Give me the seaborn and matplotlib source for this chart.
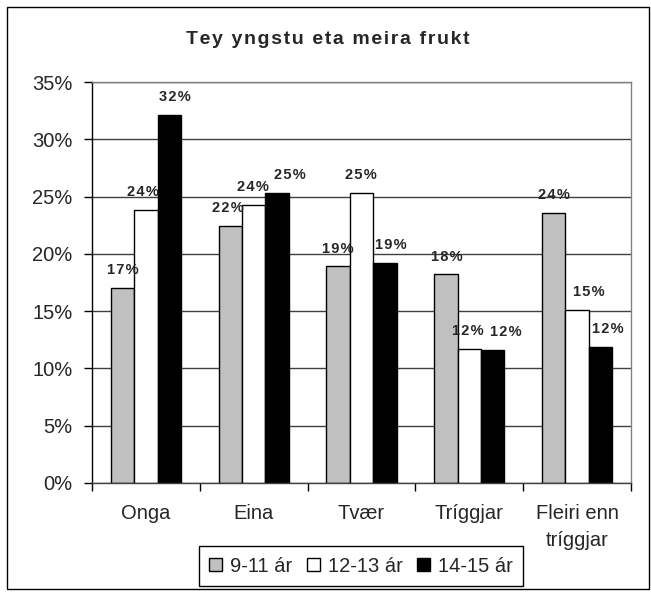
import pandas as pd
import matplotlib
matplotlib.use("Agg")
import matplotlib.pyplot as plt
import seaborn as sns
from matplotlib.patches import Patch, Rectangle
from matplotlib.ticker import FuncFormatter, FixedLocator

# Data (percent)
categories = ["Onga", "Eina", "Tvær", "Tríggjar", "Fleiri enn\ntríggjar"]
age_groups = ["9-11 ár", "12-13 ár", "14-15 ár"]
vals_9_11 = [17.0, 22.4, 18.9, 18.2, 23.6]
vals_12_13 = [23.8, 24.3, 25.3, 11.7, 15.1]
vals_14_15 = [32.1, 25.3, 19.2, 11.6, 11.9]
bar_colors = ["#C0C0C0", "#FFFFFF", "#000000"]
yticks = [0, 5, 10, 15, 20, 25, 30, 35]
title = "Tey yngstu eta meira frukt"

# sideways nudge of the value labels (pixels), like Excel placed them
nudge_9_11 = [0, -2, 0, 1, 0]
nudge_12_13 = [-3, -1, -1, -1, 12]
nudge_14_15 = [6, 13, 6, 13, 7]

# long format for seaborn
rows = []
for grp, vals in zip(age_groups, [vals_9_11, vals_12_13, vals_14_15]):
    for cat, v in zip(categories, vals):
        rows.append({"bolkur": cat, "aldur": grp, "virdi": v})
df = pd.DataFrame(rows)

sns.set_style("white")
plt.rcParams["font.family"] = ["Liberation Sans", "DejaVu Sans"]


def spaced(s, sep):
    # Excel draws these texts with extra letter spacing
    return sep.join(s)


W, H = 651, 592
fig = plt.figure(figsize=(W / 100, H / 100), dpi=100)
ax = fig.add_axes([92 / W, (H - 483) / H, (631 - 92) / W, (483 - 82) / H])

sns.barplot(data=df, x="bolkur", y="virdi", hue="aldur",
            order=categories, hue_order=age_groups, palette=bar_colors,
            width=0.65, gap=0, edgecolor="black", linewidth=1,
            saturation=1, legend=False, ax=ax)

# data labels
all_vals = [vals_9_11, vals_12_13, vals_14_15]
all_nudge = [nudge_9_11, nudge_12_13, nudge_14_15]
for cont, vals, nudges in zip(ax.containers, all_vals, all_nudge):
    for bar, v, dx in zip(cont, vals, nudges):
        x = bar.get_x() + bar.get_width() / 2
        ax.annotate(spaced(f"{round(v)}%", "\u200a"), (x, bar.get_height()),
                    xytext=(dx * 0.72, 10), textcoords="offset points",
                    ha="center", va="baseline", fontsize=10.5, fontweight="bold")

ax.set_xlim(-0.5, len(categories) - 0.5)
ax.set_ylim(0, 35)
ax.set_yticks(yticks)
ax.yaxis.set_major_formatter(FuncFormatter(lambda v, p: f"{v:.0f}%"))
ax.set_xlabel("")
ax.set_ylabel("")

ax.set_axisbelow(True)
ax.yaxis.grid(True, color="#404040", linewidth=1)

# category ticks between the groups
ax.xaxis.set_minor_locator(FixedLocator([i - 0.5 for i in range(len(categories) + 1)]))
ax.tick_params(axis="x", which="major", length=0, pad=15, labelsize=14.5)
ax.tick_params(axis="x", which="minor", length=6, width=1, color="black", direction="out", bottom=True)
ax.tick_params(axis="y", length=6, width=1, color="black", direction="out", left=True, pad=8, labelsize=14.5)
for lab in ax.get_xticklabels():
    lab.set_linespacing(1.55)

for side in ["top", "right"]:
    ax.spines[side].set_color("#808080")
ax.spines["bottom"].set_color("#404040")
ax.spines["left"].set_color("black")
for s in ax.spines.values():
    s.set_linewidth(1)

fig.text(328 / W, 1 - 39 / H, spaced(title, "\u200a"), ha="center", va="center",
         fontsize=14, fontweight="bold")

handles = [Patch(facecolor=c, edgecolor="black", linewidth=1) for c in bar_colors]
leg = fig.legend(handles, age_groups, loc="center", bbox_to_anchor=(361 / W, 1 - 566 / H),
                 ncol=3, frameon=True, fancybox=False, edgecolor="black", framealpha=1,
                 fontsize=14.5, handlelength=0.65, handleheight=0.65, handletextpad=0.4,
                 columnspacing=0.7, borderpad=0.5, borderaxespad=0)
leg.get_frame().set_linewidth(1)

# outer chart border
fig.add_artist(Rectangle((7 / W, 3 / H), (649 - 7) / W, (585 - 3) / H,
                         transform=fig.transFigure, fill=False,
                         edgecolor="black", linewidth=1))

fig.savefig("out.png", dpi=100)
